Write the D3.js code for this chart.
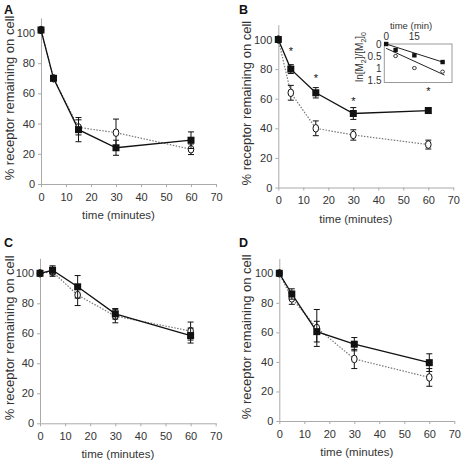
<!DOCTYPE html>
<html><head><meta charset="utf-8">
<script src="https://cdn.jsdelivr.net/npm/d3@7"></script>
<style>
body{margin:0;background:#fff;}
svg{display:block;font-family:"Liberation Sans",Arial,sans-serif;}
</style></head>
<body><svg id="c" width="470" height="464"></svg>
<script>
// ---- data ----
const times = [0, 5, 15, 30, 60];
const xTicks = [0, 10, 20, 30, 40, 50, 60, 70];
const yTicks = [0, 20, 40, 60, 80, 100];

const A_sq = [102, 70, 36, 24, 29];
const A_sqErr = [0, 0, 8, 5, 5.5];
const A_ci = [102, 70, 37.5, 34, 23];
const A_ciErr = [0, 0, 5, 9, 3.5];

const B_sq = [100, 80, 64, 50, 52];
const B_sqErr = [0, 3, 3.5, 4, 2];
const B_ci = [100, 64, 40, 35.5, 29];
const B_ciErr = [0, 5, 5, 3.5, 3];
const B_starTimes = [5, 15, 30, 60];
const B_starY = [93, 75, 59, 66];

const C_sq = [100, 102, 91, 73, 58.5];
const C_sqErr = [0, 3, 7.5, 3.5, 5];
const C_ci = [100, 101, 85.5, 71.5, 61.5];
const C_ciErr = [0, 3, 7, 4.5, 6];

const D_sq = [100, 86, 60.5, 52, 39.5];
const D_sqErr = [0, 3.5, 7, 4.5, 6];
const D_ci = [100, 83, 63, 42, 29.5];
const D_ciErr = [0, 4, 12.5, 6.5, 6];

// inset (panel B)
const insetSqT = [0, 5, 15, 30];
const insetSqV = [0, 0.25, 0.47, 0.75];
const insetCiT = [5, 15, 30];
const insetCiV = [0.5, 1.0, 1.15];
const insetFitT = [0, 30];
const insetFitSq = [0, 0.75];
const insetFitCiT = [0, 31];
const insetFitCi = [0.18, 1.29];
const insetXTicks = [0, 15];
const insetYTicks = [0, 0.5, 1, 1.5];
const insetYLabels = ["0", "0.5", "1", "1.5"];

const panels = [
  {letter: "A", sq: A_sq, sqE: A_sqErr, ci: A_ci, ciE: A_ciErr, lx: 4, ly: 14, x0: 41, x1: 216, y0: 184, y100: 33, titleX: 10},
  {letter: "B", sq: B_sq, sqE: B_sqErr, ci: B_ci, ciE: B_ciErr, lx: 239, ly: 14, x0: 278.3, x1: 453.3, y0: 187.5, y100: 39.5, titleX: 246.5},
  {letter: "C", sq: C_sq, sqE: C_sqErr, ci: C_ci, ciE: C_ciErr, lx: 4, ly: 247, x0: 40, x1: 215.7, y0: 423.3, y100: 273.3, titleX: 10},
  {letter: "D", sq: D_sq, sqE: D_sqErr, ci: D_ci, ciE: D_ciErr, lx: 239, ly: 247, x0: 279.3, x1: 454.3, y0: 421, y100: 273.3, titleX: 246.5}
];

const svg = d3.select("#c");
const axisCol = "#aaa", txtCol = "#333";

function styleAxis(g){
  g.select(".domain").attr("stroke", axisCol).attr("stroke-width", 1);
  g.selectAll(".tick line").attr("stroke", axisCol);
  g.selectAll(".tick text").attr("fill", txtCol).style("font-size", "11px").style("font-family", "Liberation Sans, Arial, sans-serif");
}

panels.forEach((p, pi) => {
  const x = d3.scaleLinear().domain([0, 70]).range([p.x0, p.x1]);
  const k = (p.y0 - p.y100) / 100;
  const y = d3.scaleLinear().domain([0, 110]).range([p.y0, p.y0 - 110 * k]);
  const g = svg.append("g");

  g.append("text").attr("x", p.lx).attr("y", p.ly).text(p.letter)
    .attr("font-weight", "bold").attr("font-size", 12.5).attr("fill", "#111");

  const gx = g.append("g").attr("transform", `translate(0,${p.y0})`)
    .call(d3.axisBottom(x).tickValues(xTicks).tickSize(3).tickSizeOuter(0).tickPadding(6));
  styleAxis(gx);
  const gy = g.append("g").attr("transform", `translate(${p.x0},0)`)
    .call(d3.axisLeft(y).tickValues(yTicks).tickSize(3).tickSizeOuter(0).tickPadding(3));
  styleAxis(gy);

  g.append("text").attr("x", (p.x0 + p.x1) / 2 - 10).attr("y", p.y0 + 35)
    .attr("text-anchor", "middle").attr("font-size", 11.5).attr("fill", txtCol).text("time (minutes)");
  g.append("text").attr("transform", `translate(${p.titleX + 4},${y(57)}) rotate(-90)`)
    .attr("text-anchor", "middle").attr("font-size", 13).attr("fill", txtCol).text("% receptor remaining on cell");

  const line = d3.line().x((d, i) => x(times[i])).y(d => y(d));

  // circle series (dotted)
  g.append("path").datum(p.ci).attr("d", line).attr("fill", "none")
    .attr("stroke", "#777").attr("stroke-width", 1.2).attr("stroke-dasharray", "1.5,1.5");
  // square series (solid)
  g.append("path").datum(p.sq).attr("d", line).attr("fill", "none")
    .attr("stroke", "#111").attr("stroke-width", 1.3);

  function errBars(vals, errs){
    vals.forEach((v, i) => {
      if (!errs[i]) return;
      const cx = x(times[i]);
      const t = y(v + errs[i]), b = y(v - errs[i]);
      g.append("line").attr("x1", cx).attr("x2", cx).attr("y1", t).attr("y2", b).attr("stroke", "#111").attr("stroke-width", 1);
      [t, b].forEach(yy => g.append("line").attr("x1", cx - 3).attr("x2", cx + 3).attr("y1", yy).attr("y2", yy).attr("stroke", "#111").attr("stroke-width", 1));
    });
  }
  errBars(p.ci, p.ciE);
  g.selectAll(null).data(p.ci).enter().append("ellipse")
    .attr("cx", (d, i) => x(times[i])).attr("cy", d => y(d)).attr("rx", 2.8).attr("ry", 3.8)
    .attr("fill", "#fff").attr("stroke", "#111").attr("stroke-width", 1);
  errBars(p.sq, p.sqE);
  g.selectAll(null).data(p.sq).enter().append("rect")
    .attr("x", (d, i) => x(times[i]) - 3.5).attr("y", d => y(d) - 3.5).attr("width", 7).attr("height", 7)
    .attr("fill", "#111");

  if (p.letter === "B") {
    g.selectAll(null).data(B_starY).enter().append("text")
      .attr("x", (d, i) => x(B_starTimes[i])).attr("y", d => y(d) + 5)
      .attr("text-anchor", "middle").attr("font-size", 11).attr("fill", "#111").text("*");

    // inset
    const ix = d3.scaleLinear().domain([-1, 35]).range([384.3, 452]);
    const iy = d3.scaleLinear().domain([0, 1.6]).range([44, 82.5]);
    const ig = svg.append("g");
    ig.append("rect").attr("x", ix(-1)).attr("y", iy(0)).attr("width", ix(35) - ix(-1)).attr("height", iy(1.6) - iy(0))
      .attr("fill", "none").attr("stroke", "#999").attr("stroke-width", 1);
    ig.selectAll(null).data(insetXTicks).enter().append("text")
      .attr("x", d => ix(d)).attr("y", 39.5).attr("text-anchor", "middle")
      .attr("font-size", 10).attr("fill", txtCol).text(d => d);
    ig.append("text").attr("x", 411).attr("y", 29).attr("text-anchor", "middle")
      .attr("font-size", 9.5).attr("fill", txtCol).text("time (min)");
    ig.selectAll(null).data(insetYTicks).enter().append("text")
      .attr("x", 381.5).attr("y", d => iy(d) + 3.5).attr("text-anchor", "end")
      .attr("font-size", 10).attr("fill", txtCol).text((d, i) => insetYLabels[i]);
    const lab = ig.append("text").attr("transform", `translate(363,57) rotate(-90)`)
      .attr("text-anchor", "middle").attr("font-size", 10).attr("fill", txtCol);
    lab.append("tspan").text("ln[M");
    lab.append("tspan").attr("font-size", 7).attr("dy", 2.5).text("2");
    lab.append("tspan").attr("dy", -2.5).text("]/[M");
    lab.append("tspan").attr("font-size", 7).attr("dy", 2.5).text("2");
    lab.append("tspan").attr("dy", -2.5).text("]");
    lab.append("tspan").attr("font-size", 7).attr("dy", 2.5).text("0");

    const fl = d3.line().x(d => ix(d[0])).y(d => iy(d[1]));
    ig.append("path").datum(insetFitT.map((t, i) => [t, insetFitSq[i]])).attr("d", fl)
      .attr("stroke", "#222").attr("stroke-width", 1).attr("fill", "none");
    ig.append("path").datum(insetFitCiT.map((t, i) => [t, insetFitCi[i]])).attr("d", fl)
      .attr("stroke", "#222").attr("stroke-width", 1).attr("fill", "none");
    ig.selectAll(null).data(insetSqV).enter().append("rect")
      .attr("x", (d, i) => ix(insetSqT[i]) - 2.2).attr("y", d => iy(d) - 2.2).attr("width", 4.4).attr("height", 4.4).attr("fill", "#111");
    ig.selectAll(null).data(insetCiV).enter().append("ellipse")
      .attr("cx", (d, i) => ix(insetCiT[i])).attr("cy", d => iy(d)).attr("rx", 1.9).attr("ry", 1.6)
      .attr("fill", "#fff").attr("stroke", "#222").attr("stroke-width", 0.9);
  }
});
</script></body></html>
